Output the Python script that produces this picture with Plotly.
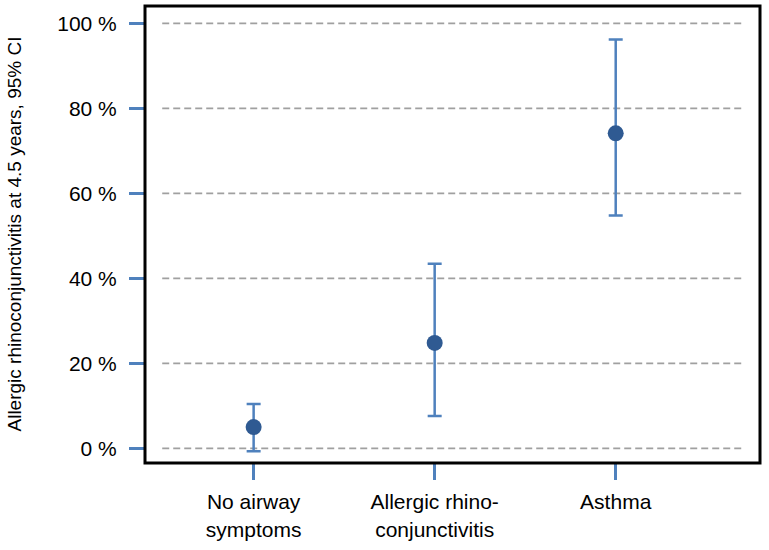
import plotly.graph_objects as go

categories = ["No airway<br>symptoms", "Allergic rhino-<br>conjunctivitis", "Asthma"]
estimate = [5.0, 24.8, 74.1]
ci_lower = [-0.7, 7.6, 54.8]
ci_upper = [10.4, 43.4, 96.2]
y_ticks = [0, 20, 40, 60, 80, 100]
y_tick_labels = ["0 %", "20 %", "40 %", "60 %", "80 %", "100 %"]
y_title = "Allergic rhinoconjunctivitis at 4.5 years, 95% CI"

FONT = "Arial, Liberation Sans, sans-serif"
BLUE = "#4f81bd"
DARK = "#2f5a92"

err_plus = [u - e for u, e in zip(ci_upper, estimate)]
err_minus = [e - l for e, l in zip(estimate, ci_lower)]

fig = go.Figure()
fig.add_trace(go.Scatter(
    x=categories, y=estimate, mode="markers",
    marker=dict(size=16, color=DARK),
    error_y=dict(type="data", array=err_plus, arrayminus=err_minus,
                 color=BLUE, thickness=2.5, width=7),
    showlegend=False, hoverinfo="skip",
))

# gridlines (dashed, inset from frame)
for v in y_ticks:
    fig.add_shape(type="line", xref="x domain", yref="y", x0=0.028, x1=0.971, y0=v, y1=v,
                  line=dict(color="#a0a0a0", width=1.7, dash="7px,4px"), layer="below")

# frame
fig.add_shape(type="rect", xref="x domain", yref="y domain", x0=0, x1=1, y0=0, y1=1,
              line=dict(color="black", width=3))

fig.add_annotation(text=y_title, xref="paper", yref="paper", x=0, y=0.5,
                   xanchor="center", yanchor="middle", xshift=-131, textangle=-90,
                   showarrow=False, font=dict(family=FONT, size=19, color="black"))

fig.update_layout(
    width=769, height=550,
    margin=dict(l=145, r=9, t=6, b=87),
    plot_bgcolor="white", paper_bgcolor="white",
    font=dict(family=FONT, color="black"),
    xaxis=dict(range=[-0.6, 2.797], showgrid=False, zeroline=False, showline=False,
               ticks="outside", ticklen=16, tickwidth=3, tickcolor=BLUE,
               tickfont=dict(size=21, family=FONT, color="black"), ticklabelstandoff=4),
    yaxis=dict(range=[-3.46, 104.07], tickmode="array", tickvals=y_ticks, ticktext=y_tick_labels,
               showgrid=False, zeroline=False, showline=False,
               ticks="outside", ticklen=15, tickwidth=3, tickcolor=BLUE,
               tickfont=dict(size=21, family=FONT, color="black"), ticklabelstandoff=8),
)

fig.write_html("out.html", config={"displayModeBar": False},
               post_script="document.body.style.margin='0';")
